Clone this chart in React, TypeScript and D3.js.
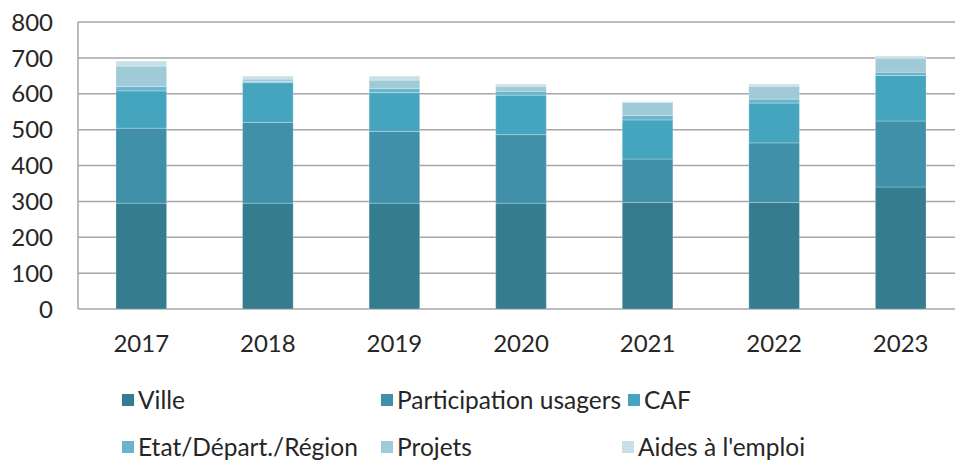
import { useEffect, useRef } from "react";
import * as d3 from "d3";

const years = ["2017", "2018", "2019", "2020", "2021", "2022", "2023"];
const series = ["Ville", "Participation usagers", "CAF", "Etat/Départ./Région", "Projets", "Aides à l'emploi"];
const ville = [295, 295, 295, 295, 297, 297, 340];
const participation = [209, 225, 200, 191, 121, 166, 184];
const caf = [104, 111, 108, 110, 109, 111, 127];
const etat = [12, 3, 12, 11, 12, 11, 9];
const projets = [57, 7, 23, 14, 37, 36, 39];
const aides = [14, 8, 11, 6, 2, 6, 6];
const yTicks = [0, 100, 200, 300, 400, 500, 600, 700, 800];
const COLORS = ["#357c8f", "#3f90a8", "#46a5be", "#6ab5cb", "#a1cad8", "#c6e0e8"];

export default function App() {
  const ref = useRef<HTMLDivElement>(null);

  useEffect(() => {
    if (!ref.current) return;
    const container = ref.current;
    d3.select(container).select("svg").remove();

    const width = 955;
    const height = 461;
    const font = "Lato, sans-serif";

    const rows = years.map((year, i) => ({
      year,
      "Ville": ville[i],
      "Participation usagers": participation[i],
      "CAF": caf[i],
      "Etat/Départ./Région": etat[i],
      "Projets": projets[i],
      "Aides à l'emploi": aides[i],
    }));
    const stacked = d3.stack<any>().keys(series)(rows);

    const x = d3.scaleBand()
      .domain(years)
      .range([78, 964])
      .paddingInner(0.6)
      .paddingOuter(0.3);

    const y = d3.scaleLinear()
      .domain([0, 800])
      .range([309, 22]);

    const color = d3.scaleOrdinal<string, string>().domain(series).range(COLORS);

    const svg = d3.create("svg")
      .attr("width", width)
      .attr("height", height)
      .attr("viewBox", [0, 0, width, height])
      .attr("style", "position:absolute;left:0;top:0;background:#fff;");

    // gridlines
    svg.append("g")
      .attr("stroke", "#a6a6a6")
      .attr("stroke-width", 1.5)
      .selectAll("line")
      .data(yTicks)
      .join("line")
        .attr("x1", 78)
        .attr("x2", 964)
        .attr("y1", d => y(d))
        .attr("y2", d => y(d));

    svg.append("line")
      .attr("x1", 78).attr("x2", 78)
      .attr("y1", y(800)).attr("y2", y(0))
      .attr("stroke", "#a6a6a6")
      .attr("stroke-width", 1.5);

    svg.append("g")
      .attr("font-family", font)
      .attr("font-size", 24)
      .attr("fill", "#262626")
      .attr("text-anchor", "end")
      .selectAll("text")
      .data(yTicks)
      .join("text")
        .attr("x", 53)
        .attr("y", d => y(d))
        .attr("dy", "0.36em")
        .text(d => d);

    svg.append("g")
      .selectAll("g")
      .data(stacked)
      .join("g")
        .attr("fill", d => color(d.key))
      .selectAll("rect")
      .data(d => d)
      .join("rect")
        .attr("x", d => x(d.data.year)!)
        .attr("width", x.bandwidth())
        .attr("y", d => y(d[1]))
        .attr("height", d => y(d[0]) - y(d[1]))
        .attr("stroke", "#ffffff")
        .attr("stroke-opacity", 0.25)
        .attr("stroke-width", 1);

    svg.append("g")
      .attr("font-family", font)
      .attr("font-size", 24)
      .attr("fill", "#262626")
      .attr("text-anchor", "middle")
      .selectAll("text")
      .data(years)
      .join("text")
        .attr("x", d => x(d)! + x.bandwidth() / 2)
        .attr("y", 352)
        .text(d => d);

    const legendPos = [
      { x: 122, y: 400 },
      { x: 381, y: 400 },
      { x: 628, y: 400 },
      { x: 122, y: 447 },
      { x: 381, y: 447 },
      { x: 622, y: 447 },
    ];
    const legend = svg.append("g")
      .attr("font-family", font)
      .attr("font-size", 24.5)
      .attr("fill", "#262626")
      .selectAll("g")
      .data(series)
      .join("g")
        .attr("transform", (d, i) => `translate(${legendPos[i].x},${legendPos[i].y})`);
    legend.append("rect")
      .attr("x", 0)
      .attr("y", -6)
      .attr("width", 12)
      .attr("height", 12)
      .attr("fill", d => color(d));
    legend.append("text")
      .attr("x", 16)
      .attr("dy", "0.36em")
      .text(d => d);

    container.append(svg.node()!);
  }, []);

  return <div ref={ref} />;
}
